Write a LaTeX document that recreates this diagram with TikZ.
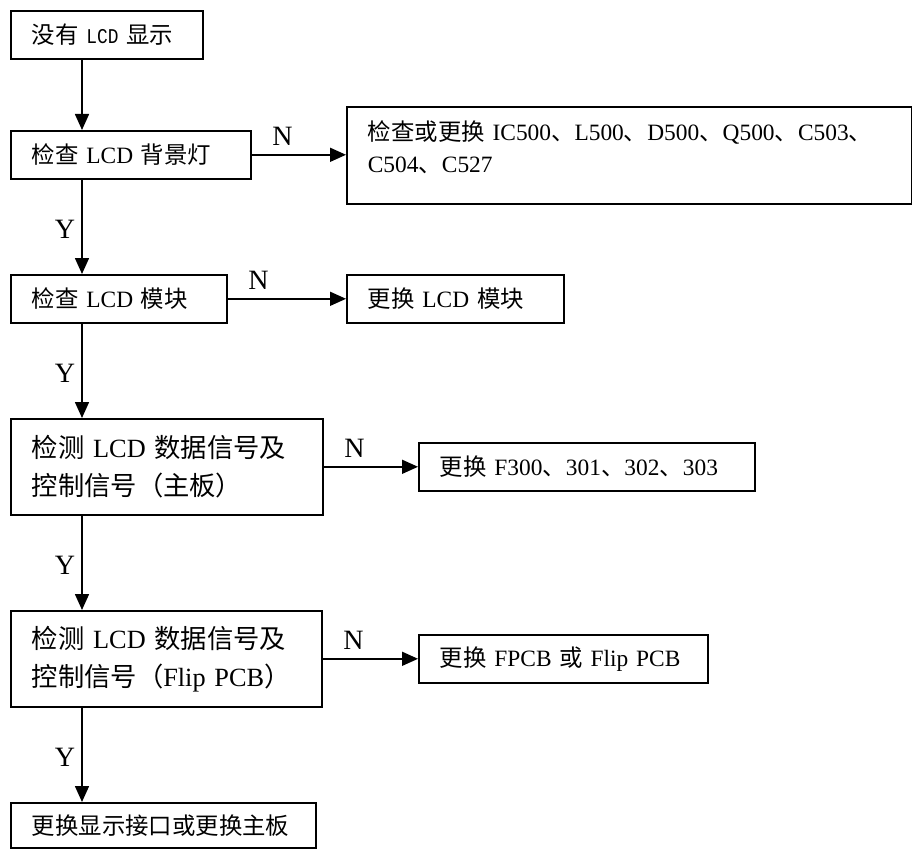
\documentclass[tikz,border=0pt]{standalone}
\usepackage{fontspec}
\setmainfont{Liberation Serif}
\setmonofont{Liberation Mono}
\newfontfamily\cjk{Noto Sans CJK SC}
\newfontfamily\narrowmono[FakeStretch=0.85]{Liberation Mono}
\newcommand{\zh}[1]{{\cjk #1}}
\usetikzlibrary{arrows.meta}
\usetikzlibrary{positioning}
\tikzset{
    stepbox/.style={draw, line width=1.6pt, anchor=north west, align=left,
        inner xsep=21pt, inner ysep=0pt, minimum height=48pt,
        font=\fontsize{23.4}{32}\selectfont},
    bigtext/.style={font=\fontsize{26.3}{38}\selectfont},
    nlab/.style={anchor=base west, inner sep=0pt, xshift=20pt, yshift=9pt,
        font=\fontsize{28}{28}\selectfont},
    ylab/.style={left=4pt, inner sep=2pt, yshift=-3pt,
        font=\fontsize{28}{28}\selectfont}
}

\begin{document}
\begin{tikzpicture}[->,
                    >={Triangle[length=16pt,width=14pt]},
                    line width=1.6pt,
                    x=1pt, y=-1pt
                    ]
  \useasboundingbox (0,0) rectangle (912,848);
  \coordinate (spine) at (82,0);
  % left column
  \node[stepbox, text width=150pt] (start) at (10,10)
       {\zh{没有} {\narrowmono\fontsize{21}{21}\selectfont LCD} \zh{显示}};
  \node[stepbox, text width=198pt] (chk1) at (10,130)
       {\zh{检查} LCD \zh{背景灯}};
  \node[stepbox, text width=174pt] (chk2) at (10,274)
       {\zh{检查} LCD \zh{模块}};
  \node[stepbox, bigtext, text width=270pt, minimum height=96pt] (chk3) at (10,418)
       {\zh{检测} LCD \zh{数据信号及}\\ \zh{控制信号（主板）}};
  \node[stepbox, bigtext, text width=269pt, minimum height=96pt] (chk4) at (10,610)
       {\zh{检测} LCD \zh{数据信号及}\\ \zh{控制信号（}Flip PCB\zh{）}};
  \node[stepbox, text width=263pt, minimum height=45pt] (last) at (10,802)
       {\zh{更换显示接口或更换主板}};
  % right column
  \node[stepbox, text width=523pt, minimum height=97pt] (fix1) at (346,106)
       {\parbox[c][97pt][t]{523pt}{\vspace{14pt}%
        \zh{检查或更换} IC500\zh{、}L500\zh{、}D500\zh{、}Q500\zh{、}C503\zh{、}\\
        C504\zh{、}C527}};
  \node[stepbox, text width=175pt] (fix2) at (346,274)
       {\zh{更换} LCD \zh{模块}};
  \node[stepbox, text width=294pt] (fix3) at (418,442)
       {\zh{更换} F300\zh{、}301\zh{、}302\zh{、}303};
  \node[stepbox, text width=247pt] (fix4) at (418,634)
       {\zh{更换} FPCB \zh{或} Flip PCB};
  % Y branches
  \draw (start.south -| spine) -- (chk1.north -| spine);
  \draw (chk1.south -| spine) -- node[ylab] {Y} (chk2.north -| spine);
  \draw (chk2.south -| spine) -- node[ylab] {Y} (chk3.north -| spine);
  \draw (chk3.south -| spine) -- node[ylab] {Y} (chk4.north -| spine);
  \draw (chk4.south -| spine) -- node[ylab] {Y} (last.north -| spine);
  % N branches
  \draw (chk1.east) node[nlab] {N} -- (fix1.west |- chk1.east);
  \draw (chk2.east) node[nlab] {N} -- (fix2.west |- chk2.east);
  \draw (chk3.east) node[nlab] {N} -- (fix3.west |- chk3.east);
  \draw (chk4.east) node[nlab] {N} -- (fix4.west |- chk4.east);
\end{tikzpicture}
\end{document}
